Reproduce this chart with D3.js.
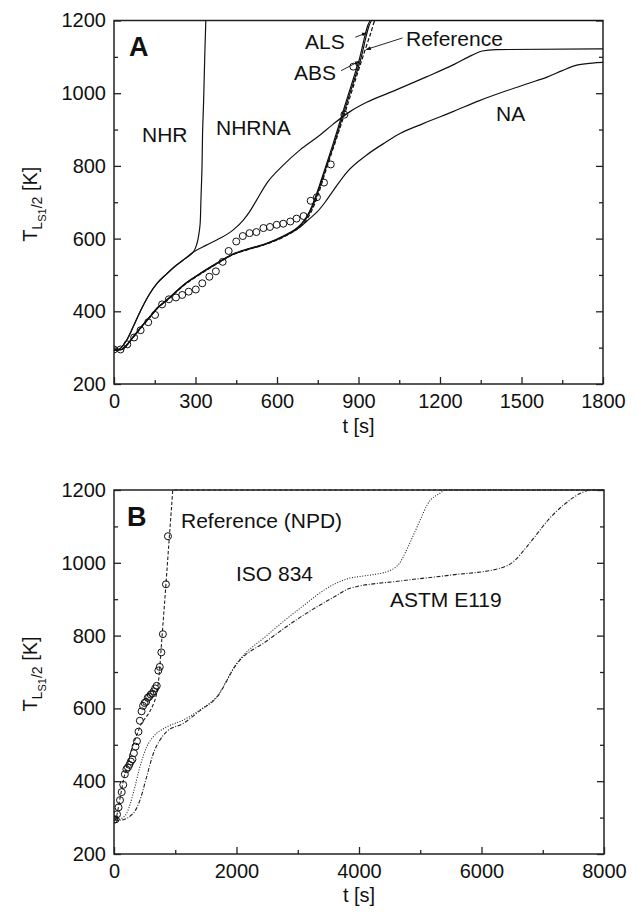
<!DOCTYPE html>
<html>
<head>
<meta charset="utf-8">
<script src="https://cdn.jsdelivr.net/npm/d3@7/dist/d3.min.js"></script>
<style>
  body { margin: 0; background: #fff; }
  svg { display: block; font-family: "Liberation Sans", Arial, sans-serif; }
</style>
</head>
<body>
<svg id="chart" width="638" height="915"></svg>
<script>
// panel A: t [s], T [K]
const expData = [[0,295],[24,295],[49,309],[74,328],[98,348],[126,370],[151,390],[177,419],[202,433],[228,438],[251,445],[275,454],[301,460],[325,477],[351,495],[375,510],[400,536],[422,566],[450,592],[474,607],[499,615],[524,618],[550,629],[574,632],[599,638],[623,641],[649,647],[672,655],[698,662],[724,704],[747,714],[773,754],[798,804],[848,941],[881,1073]];

const nhr = [[0,293],[20,296],[47,321],[71,358],[100,405],[132,449],[160,478],[194,503],[225,524],[255,541],[292,563],[305,585],[312,610],[317,640],[320,706],[324,798],[326,889],[330,981],[334,1100],[338,1200]];
const nhrna = [[0,293],[20,296],[47,321],[71,358],[100,405],[132,449],[160,478],[194,503],[225,524],[255,541],[292,563],[340,582],[378,596],[439,624],[476,651],[500,675],[525,706],[562,752],[623,802],[685,844],[750,880],[807,915],[870,950],[930,975],[1026,1005],[1150,1045],[1254,1080],[1317,1104],[1355,1116],[1406,1120],[1800,1122]];
const als = [[0,293],[28,295],[50,310],[71,330],[100,357],[132,385],[160,410],[194,431],[225,452],[255,472],[317,504],[378,532],[439,558],[500,573],[562,587],[623,607],[685,637],[709,660],[730,692],[746,724],[780,800],[807,862],[856,981],[900,1085],[946,1200],[1800,1200]];
const abs = [[0,293],[28,295],[50,309],[71,329],[100,356],[132,384],[160,409],[194,430],[225,451],[255,471],[317,503],[378,531],[439,557],[500,572],[562,586],[623,606],[685,636],[709,657],[730,687],[748,722],[782,798],[810,860],[860,980],[905,1085],[951,1200],[1800,1200]];
const refA = [[0,293],[28,295],[50,309],[71,328],[100,355],[132,383],[160,408],[194,429],[225,450],[255,470],[317,502],[378,530],[439,556],[500,571],[562,585],[623,604],[685,633],[709,652],[730,680],[750,718],[780,788],[810,855],[848,941],[900,1063],[945,1165],[962,1200],[1800,1200]];
const na = [[0,293],[28,295],[50,310],[71,330],[100,357],[132,385],[160,410],[194,431],[225,452],[255,472],[317,504],[378,532],[439,557],[500,572],[562,586],[623,605],[685,632],[720,655],[746,672],[777,700],[807,732],[860,785],[930,830],[1000,865],[1053,889],[1140,917],[1250,950],[1343,979],[1450,1008],[1530,1028],[1596,1045],[1650,1062],[1697,1076],[1761,1083],[1800,1085]];

// panel B
const refB = refA.slice(0, -1).concat([[8000,1200]]);
const iso834 = [[0,293],[100,296],[207,312],[315,367],[424,440],[533,494],[642,522],[860,549],[1132,568],[1404,596],[1676,632],[2003,724],[2493,800],[3037,875],[3581,940],[3850,958],[4044,963],[4494,978],[4662,999],[4831,1055],[5000,1118],[5112,1159],[5337,1193],[5400,1200],[8000,1200]];
const astm = [[0,293],[98,293],[315,312],[424,348],[533,412],[642,476],[751,513],[860,536],[1132,559],[1404,594],[1676,630],[2003,722],[2493,785],[3037,850],[3581,905],[3853,930],[4669,950],[5486,966],[6302,985],[6520,1003],[6738,1044],[6955,1090],[7090,1118],[7350,1160],[7643,1193],[7775,1200],[8000,1200]];

const yTicks = [200, 400, 600, 800, 1000, 1200];
const yMinor = [300, 500, 700, 900, 1100];
const xTicksA = [0, 300, 600, 900, 1200, 1500, 1800];
const xMinorA = [150, 450, 750, 1050, 1350, 1650];
const xTicksB = [0, 2000, 4000, 6000, 8000];
const xMinorB = [1000, 3000, 5000, 7000];

const svg = d3.select("#chart");
svg.append("rect").attr("width", 638).attr("height", 915).attr("fill", "#fff");

const defs = svg.append("defs");
defs.append("marker").attr("id", "arrow").attr("viewBox", "0 0 10 10")
  .attr("refX", 9).attr("refY", 5).attr("markerWidth", 6).attr("markerHeight", 6)
  .attr("orient", "auto")
  .append("path").attr("d", "M0,1.5L10,5L0,8.5Z").attr("fill", "#111");

function panel(id, x, y, xTicks, xMinor, letter, letterPos, labelY) {
  const [x0, x1] = x.range(), [y0, y1] = y.range();
  const g = svg.append("g");
  defs.append("clipPath").attr("id", "clip" + id)
    .append("rect").attr("x", x0).attr("y", y1 - 1).attr("width", x1 - x0).attr("height", y0 - y1 + 2);

  // minor ticks
  g.append("g").attr("transform", `translate(0,${y0})`)
    .call(d3.axisBottom(x).tickValues(xMinor).tickSize(-4).tickFormat(""));
  g.append("g").attr("transform", `translate(${x0},0)`)
    .call(d3.axisLeft(y).tickValues(yMinor).tickSize(-4).tickFormat(""));
  g.append("g").attr("transform", `translate(${x1},0)`)
    .call(d3.axisRight(y).tickValues(yMinor).tickSize(-4).tickFormat(""));
  // major ticks
  g.append("g").attr("transform", `translate(0,${y0})`)
    .call(d3.axisBottom(x).tickValues(xTicks).tickSize(-7).tickPadding(10).tickFormat(d3.format("d")));
  g.append("g").attr("transform", `translate(${x0},0)`)
    .call(d3.axisLeft(y).tickValues(yTicks).tickSize(-7).tickPadding(8).tickFormat(d3.format("d")));
  g.append("g").attr("transform", `translate(${x1},0)`)
    .call(d3.axisRight(y).tickValues(yTicks).tickSize(-7).tickFormat(""));

  g.selectAll(".domain").remove();
  g.selectAll(".tick line").attr("stroke", "#222").attr("stroke-width", 1.3);
  g.selectAll(".tick text").attr("font-size", 20).attr("fill", "#111")
    .attr("font-family", "'Liberation Sans', Arial, sans-serif");

  g.append("rect").attr("x", x0).attr("y", y1).attr("width", x1 - x0).attr("height", y0 - y1)
    .attr("fill", "none").attr("stroke", "#222").attr("stroke-width", 1.5);

  // x label
  g.append("text").attr("x", (x0 + x1) / 2).attr("y", labelY).attr("text-anchor", "middle")
    .attr("font-size", 20).attr("fill", "#111").text("t [s]");

  // y label
  const yl = g.append("text").attr("transform", `translate(37,${(y0 + y1) / 2 + 2}) rotate(-90)`)
    .attr("text-anchor", "middle").attr("font-size", 20).attr("fill", "#111");
  yl.append("tspan").text("T");
  yl.append("tspan").attr("font-size", 14).attr("dy", 5).text("L");
  yl.append("tspan").attr("font-size", 11).attr("dy", 4).text("S1");
  yl.append("tspan").attr("font-size", 14).attr("dy", -4).text("/2");
  yl.append("tspan").attr("font-size", 20).attr("dy", -5).text(" [K]");

  g.append("text").attr("x", letterPos[0]).attr("y", letterPos[1])
    .attr("font-size", 27).attr("font-weight", "bold").attr("fill", "#111").text(letter);

  return svg.append("g").attr("clip-path", `url(#clip${id})`);
}

// ---- Panel A
const xA = d3.scaleLinear([0, 1800], [114, 603]);
const yA = d3.scaleLinear([200, 1200], [384, 20.5]);
const plotA = panel("A", xA, yA, xTicksA, xMinorA, "A", [129, 56], 433);
const lineA = d3.line().x(d => xA(d[0])).y(d => yA(d[1])).curve(d3.curveMonotoneX);
const lineAv = d3.line().x(d => xA(d[0])).y(d => yA(d[1])).curve(d3.curveCatmullRom.alpha(0.5));

[[nhrna, null], [na, null], [als, null], [abs, null], [refA, "4,2"]].forEach(([d, dash]) => {
  plotA.append("path").attr("d", lineA(d)).attr("fill", "none").attr("stroke", "#111")
    .attr("stroke-width", 1.2).attr("stroke-dasharray", dash);
});
plotA.append("path").attr("d", lineAv(nhr)).attr("fill", "none").attr("stroke", "#111").attr("stroke-width", 1.2);

plotA.selectAll("circle").data(expData).join("circle")
  .attr("cx", d => xA(d[0])).attr("cy", d => yA(d[1])).attr("r", 3.5)
  .attr("fill", "none").attr("stroke", "#111").attr("stroke-width", 1);

const labA = svg.append("g").attr("font-size", 21).attr("fill", "#111");
labA.append("text").attr("x", 142).attr("y", 142).text("NHR");
labA.append("text").attr("x", 216).attr("y", 135).text("NHRNA");
labA.append("text").attr("x", 305).attr("y", 49).text("ALS");
labA.append("text").attr("x", 294).attr("y", 80).text("ABS");
labA.append("text").attr("x", 406).attr("y", 46).text("Reference");
labA.append("text").attr("x", 496).attr("y", 121).text("NA");

const arrowsA = [
  [[888, 1154], [930, 1166]],
  [[836, 1062], [903, 1088]],
  [[1062, 1152], [928, 1120]]
];
arrowsA.forEach(([a, b]) => {
  svg.append("line").attr("x1", xA(a[0])).attr("y1", yA(a[1])).attr("x2", xA(b[0])).attr("y2", yA(b[1]))
    .attr("stroke", "#111").attr("stroke-width", 0.9).attr("marker-end", "url(#arrow)");
});

// ---- Panel B
const xB = d3.scaleLinear([0, 8000], [114, 604]);
const yB = d3.scaleLinear([200, 1200], [854, 490]);
const plotB = panel("B", xB, yB, xTicksB, xMinorB, "B", [127, 526], 902);
const lineB = d3.line().x(d => xB(d[0])).y(d => yB(d[1])).curve(d3.curveMonotoneX);

plotB.append("path").attr("d", lineB(iso834)).attr("fill", "none").attr("stroke", "#222")
  .attr("stroke-width", 1.1).attr("stroke-dasharray", "1,1.6");
plotB.append("path").attr("d", lineB(astm)).attr("fill", "none").attr("stroke", "#222")
  .attr("stroke-width", 1.1).attr("stroke-dasharray", "4,1.6,1,1.6");
plotB.append("path").attr("d", lineB(refB)).attr("fill", "none").attr("stroke", "#222")
  .attr("stroke-width", 1.1).attr("stroke-dasharray", "3.5,2");

plotB.selectAll("circle").data(expData).join("circle")
  .attr("cx", d => xB(d[0])).attr("cy", d => yB(d[1])).attr("r", 3.5)
  .attr("fill", "none").attr("stroke", "#111").attr("stroke-width", 1);

const labB = svg.append("g").attr("font-size", 21).attr("fill", "#111");
labB.append("text").attr("x", 181).attr("y", 528).text("Reference (NPD)");
labB.append("text").attr("x", 236).attr("y", 581).text("ISO 834");
labB.append("text").attr("x", 390).attr("y", 607).text("ASTM E119");
</script>
</body>
</html>
